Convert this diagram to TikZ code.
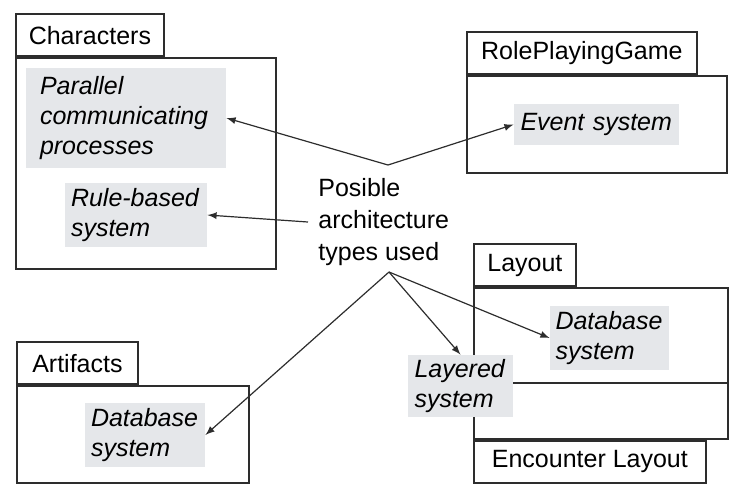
\documentclass[tikz,border=0pt]{standalone}
\usepackage{fontspec}
\setmainfont{Liberation Sans}
\usetikzlibrary{positioning}
\definecolor{boxgray}{RGB}{229,231,234}
\definecolor{linegray}{RGB}{45,45,45}

\begin{document}
\begin{tikzpicture}[
    x=0.5pt, y=-0.5pt,
    font=\fontsize{12.5}{15}\selectfont,
    pkgbody/.style={rectangle, draw=linegray, line width=0.9pt, anchor=north west, inner sep=0pt},
    pkgtab/.style={rectangle, draw=linegray, line width=0.9pt, minimum height=21pt, inner sep=0pt},
    archbox/.style={rectangle, fill=boxgray, inner sep=0pt, align=left, font=\fontsize{12.5}{15}\selectfont\itshape},
    arrow/.style={-latex, line width=0.6pt, linegray}
]
\useasboundingbox (0,0) rectangle (744,495);

% packages
\node[pkgbody, minimum width=130pt, minimum height=105.5pt] (chb) at (15,57) {};
\node[pkgtab, minimum width=74pt, above right=0pt and 0pt of chb.north west] (cht) {Characters};

\node[pkgbody, minimum width=130pt, minimum height=48.5pt] (rpb) at (466,75) {};
\node[pkgtab, minimum width=115pt, above right=0pt and 0pt of rpb.north west] (rpt) {RolePlayingGame};

\node[pkgbody, minimum width=116pt, minimum height=48.5pt] (arb) at (16,385) {};
\node[pkgtab, minimum width=60.5pt, above right=0pt and 0pt of arb.north west] (art) {Artifacts};

\node[pkgbody, minimum width=127pt, minimum height=75.5pt] (lyb) at (473,287) {};
\node[pkgtab, minimum width=51pt, above right=0pt and 0pt of lyb.north west] (lyt) {Layout};
\node[pkgtab, minimum width=116pt, below right=0pt and 0pt of lyb.south west] (enc) {Encounter Layout};
\draw[linegray, line width=0.9pt] ([yshift=-48pt]lyb.north west) -- ([yshift=-48pt]lyb.north east);

% architecture types
\node[archbox, text width=86pt, minimum width=100pt, minimum height=50pt] (par) at (126,118) {Parallel\\communicating\\processes};
\node[archbox, text width=65pt, minimum width=71pt, minimum height=32pt] (rule) at (136,215) {Rule-based\\system};
\node[archbox, text width=76pt, minimum width=82.5pt, minimum height=20.5pt] (evt) at (596.5,124.5) {Event system};
\node[archbox, text width=54pt, minimum width=60pt, minimum height=32pt] (adb) at (145,435) {Database\\system};
\node[archbox, text width=54pt, minimum width=59.5pt, minimum height=32pt] (ldb) at (609.5,338) {Database\\system};
\node[archbox, text width=46pt, minimum width=52.5pt, minimum height=31pt] (lay) at (460.5,386) {Layered\\system};

\node[align=left, inner xsep=5pt, inner ysep=0pt, anchor=west, font=\fontsize{12.5}{16}\selectfont] (lbl) at (308,222) {Posible\\architecture\\types used};

\coordinate (jtop) at (388,165);
\coordinate (jbot) at (389,272);

\draw[arrow, latex-latex] (par.east) -- (jtop) -- (evt.west);
\draw[arrow] (lbl.west) -- (rule.east);
\draw[arrow] (jbot) -- (adb.east);
\draw[arrow] (jbot) -- (lay.north);
\draw[arrow] (jbot) -- (ldb.west);

\end{tikzpicture}
\end{document}
